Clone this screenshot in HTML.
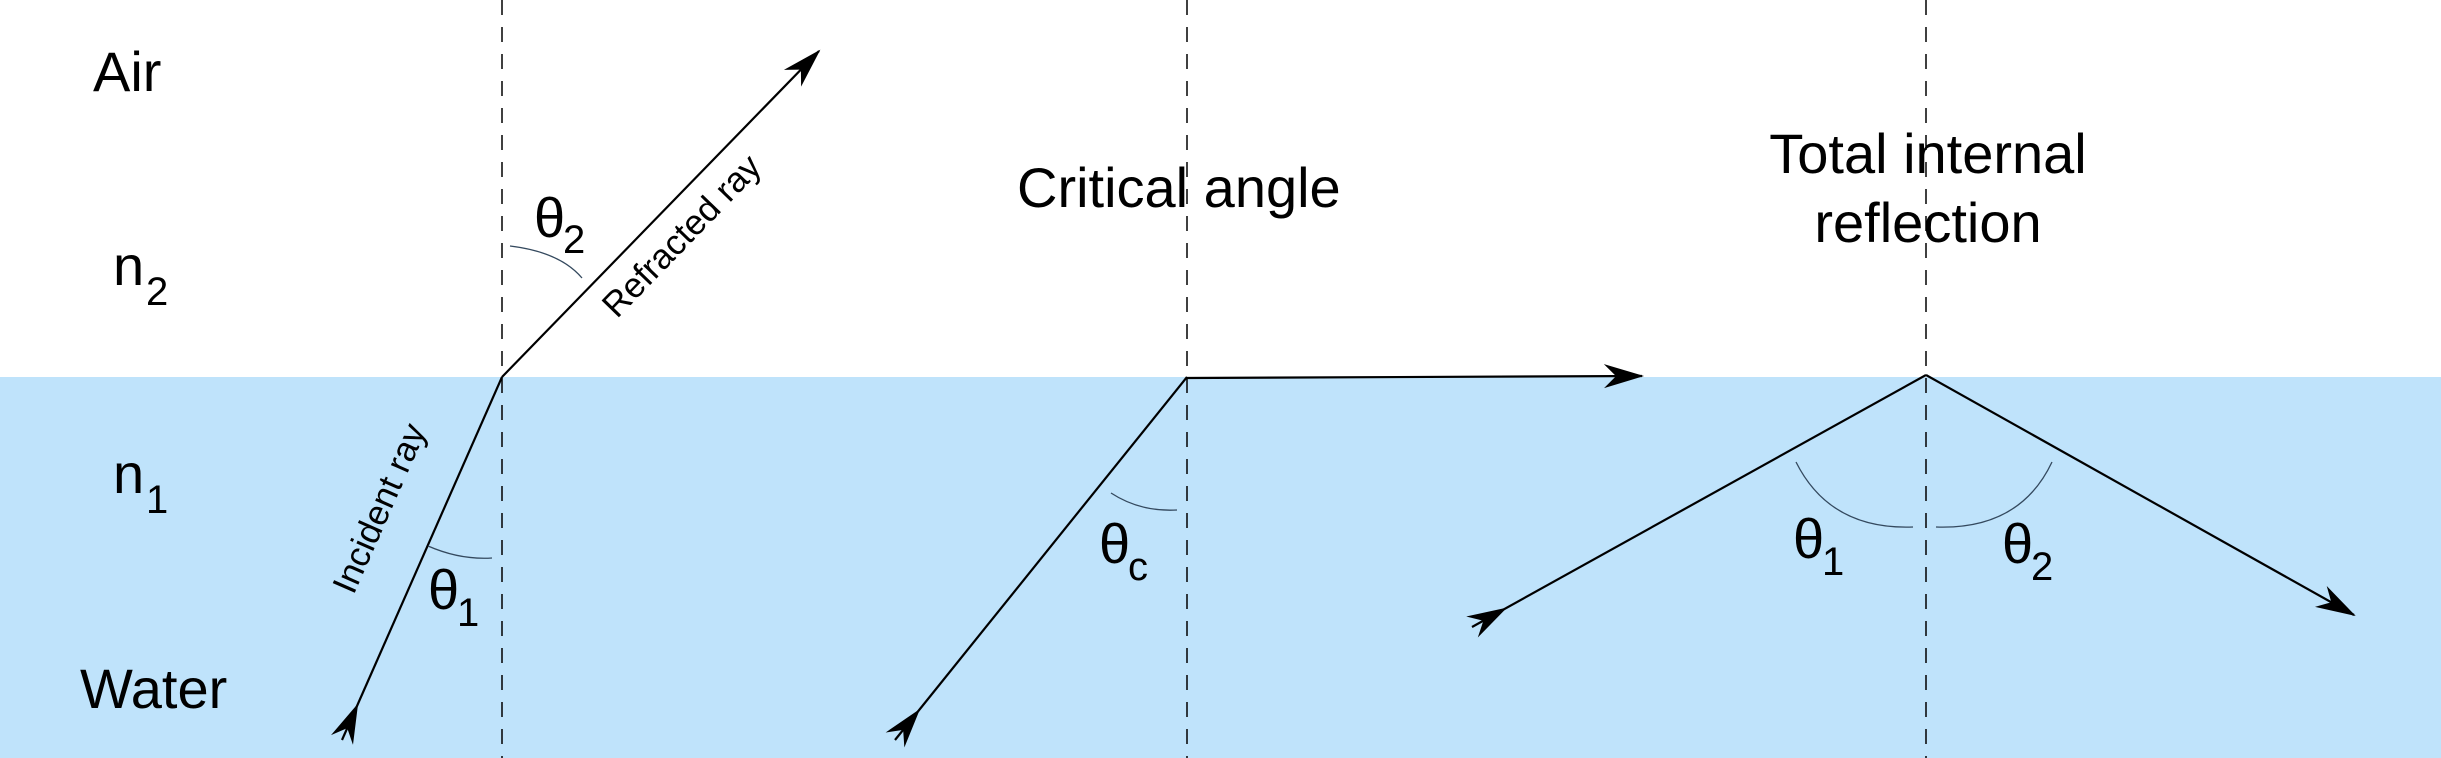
<!DOCTYPE html>
<html><head><meta charset="utf-8"><style>
html,body{margin:0;padding:0;background:#fff}
svg{display:block}
text{font-family:"Liberation Sans",sans-serif;fill:#000}
</style></head><body>
<svg width="2441" height="758" viewBox="0 0 2441 758" xmlns="http://www.w3.org/2000/svg">
<defs>
<marker id="ah" viewBox="0 0 40 26" refX="38" refY="13" markerWidth="40" markerHeight="26" markerUnits="userSpaceOnUse" orient="auto">
<path d="M0,1 L40,13 L0,25 L12,13 Z" fill="#000"/>
</marker>
<marker id="at" viewBox="0 0 42 26" refX="0" refY="13" markerWidth="42" markerHeight="26" markerUnits="userSpaceOnUse" orient="auto">
<path d="M40,13 L0,1 L13,13 L0,25 Z" fill="#000"/>
</marker>
</defs>
<rect x="0" y="377" width="2441" height="381" fill="#bfe3fb"/>
<g stroke="#000" stroke-width="1.5" stroke-dasharray="15,12">
<line x1="502" y1="0" x2="502" y2="758"/>
<line x1="1187" y1="0" x2="1187" y2="758"/>
<line x1="1926" y1="0" x2="1926" y2="758"/>
</g>
<g stroke="#000" stroke-width="2.2" fill="none">
<line x1="502" y1="377" x2="819" y2="51" marker-end="url(#ah)"/>
<line x1="342" y1="740" x2="502" y2="377" marker-start="url(#at)"/>
<line x1="895" y1="740" x2="1187" y2="377" marker-start="url(#at)"/>
<line x1="1187" y1="378" x2="1642" y2="376" marker-end="url(#ah)"/>
<line x1="1472" y1="627" x2="1926" y2="375" marker-start="url(#at)"/>
<line x1="1926" y1="375" x2="2354" y2="615" marker-end="url(#ah)"/>
</g>
<g stroke="#34495e" stroke-width="1.3" fill="none">
<path d="M510,246 Q560,252 582,278"/>
<path d="M428,546 Q460,560 492,558"/>
<path d="M1111,493 Q1140,512 1177,510"/>
<path d="M1796,462 Q1830,530 1913,527"/>
<path d="M1936,527 Q2020,530 2052,462"/>
</g>
<g font-size="56">
<text x="93" y="91">Air</text>
<text x="113" y="285">n</text><text x="146" y="305" font-size="40">2</text>
<text x="113" y="493">n</text><text x="146" y="513" font-size="40">1</text>
<text x="80" y="708">Water</text>
<text x="1017" y="207">Critical angle</text>
<text x="1928" y="173" text-anchor="middle">Total internal</text>
<text x="1928" y="242" text-anchor="middle">reflection</text>
<text x="534" y="237">θ</text><text x="563" y="253" font-size="40">2</text>
<text x="428" y="609">θ</text><text x="457" y="626" font-size="40">1</text>
<text x="1099" y="563">θ</text><text x="1128" y="580" font-size="40">c</text>
<text x="1793" y="558">θ</text><text x="1822" y="575" font-size="40">1</text>
<text x="2002" y="563">θ</text><text x="2031" y="580" font-size="40">2</text>
</g>
<text font-size="35" text-anchor="middle" transform="translate(690,244) rotate(-45.9)">Refracted ray</text>
<text font-size="35" text-anchor="middle" transform="translate(390,513) rotate(-66.2)">Incident ray</text>
</svg>
</body></html>
